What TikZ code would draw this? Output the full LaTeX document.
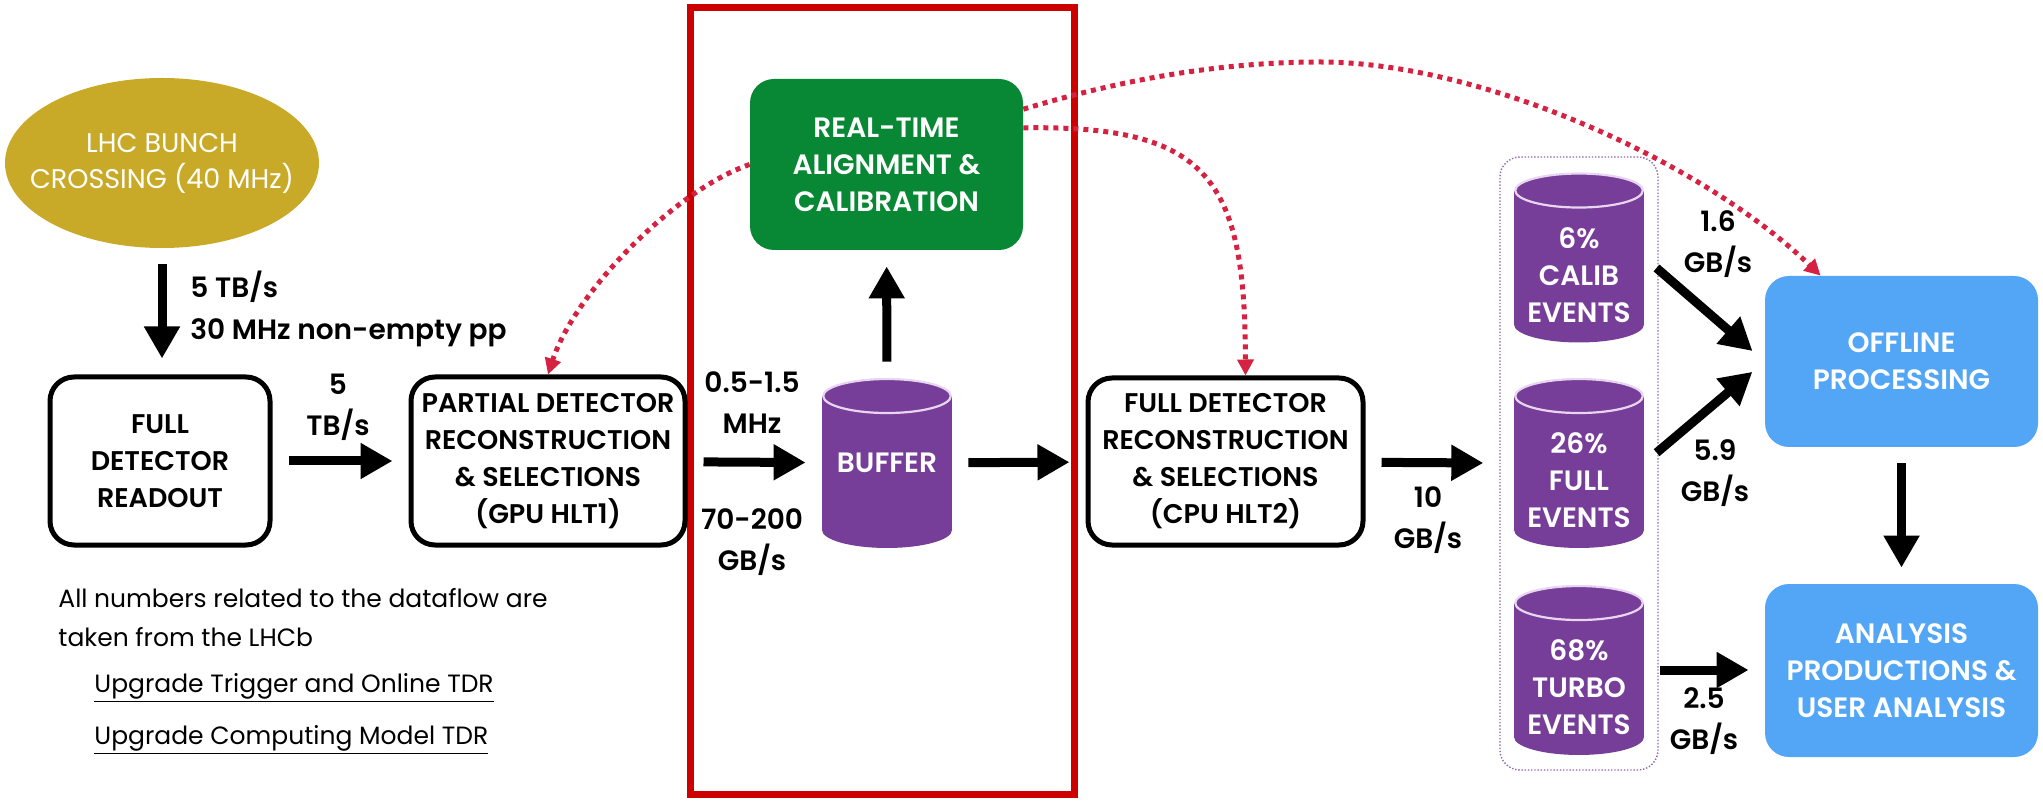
\documentclass[tikz,border=0pt]{standalone}
\usepackage{fontspec}
\setmainfont{Poppins}[BoldFont={Poppins SemiBold}]
\usetikzlibrary{arrows.meta,shapes.geometric,calc}

\definecolor{lhcgold}{RGB}{201,170,40}
\definecolor{rtgreen}{RGB}{8,136,52}
\definecolor{bufpurple}{RGB}{118,61,153}
\definecolor{cyltop}{RGB}{232,214,240}
\definecolor{offblue}{RGB}{82,166,245}
\definecolor{frred}{RGB}{204,0,0}
\definecolor{dotred}{RGB}{214,34,66}

\tikzset{
  boxfont/.style={font=\bfseries\fontsize{13.5}{18.5}\selectfont},
  bigfont/.style={font=\bfseries\fontsize{14}{18.5}\selectfont},
  procbox/.style={boxfont, draw=black, line width=2.5pt, rounded corners=12pt, align=center, inner sep=0pt},
  greenbox/.style={bigfont, fill=rtgreen, text=white, rounded corners=12pt, align=center, inner sep=0pt},
  bluebox/.style={bigfont, fill=offblue, text=white, rounded corners=12pt, align=center, inner sep=0pt},
  store/.style={bigfont, text=white, align=center, inner sep=0pt, minimum width=65pt, minimum height=85pt,
    path picture={
      \fill [bufpurple] ($(path picture bounding box.north west)!0.106!(path picture bounding box.south west)$) rectangle ($(path picture bounding box.south east)!0.106!(path picture bounding box.north east)$);
      \fill [bufpurple] ($(path picture bounding box.south)!0.106!(path picture bounding box.north)$) ellipse [x radius=32.5pt, y radius=9pt];
      \filldraw [fill=bufpurple, draw=cyltop, line width=1.1pt] ($(path picture bounding box.north)!0.106!(path picture bounding box.south)$) ellipse [x radius=31.9pt, y radius=8.5pt];
    }},
  rate/.style={font=\bfseries\fontsize{14}{20.5}\selectfont, align=center, inner sep=0pt},
  note/.style={font=\fontsize{12.5}{19.5}\selectfont, inner sep=0pt},
  flow/.style={-{Triangle[width=17pt,length=16pt]}, line width=4.5pt, shorten >=8pt, shorten <=8pt},
  feedback/.style={-{Triangle[width=8pt,length=8pt]}, dotred, line width=2.5pt, dash pattern=on 2.5pt off 2.5pt}
}
\newcommand{\cyldrop}{\rule{0pt}{28pt}}

\begin{document}
\begin{tikzpicture}[x=0.5pt,y=0.5pt,yscale=-1,xscale=1]
\useasboundingbox (0,0) rectangle (2043,806);

%Shape: Rectangle (real-time frame)
\draw [frred, line width=3.5pt] (690,8) rectangle (1074,794);

%Shape: Ellipse
\node [ellipse, fill=lhcgold, text=white, align=center, inner ysep=0pt, inner xsep=-15pt, minimum width=157pt, minimum height=85pt, font=\fontsize{13.5}{18}\selectfont] (lhc) at (162,163) {LHC BUNCH\\CROSSING (40 MHz)};

%Shape: Boxes
\node [procbox, minimum width=110pt, minimum height=84pt] (readout) at (160,461) {FULL\\DETECTOR\\READOUT};
\node [procbox, minimum width=137pt, minimum height=84pt] (partial) at (548,461) {PARTIAL DETECTOR\\RECONSTRUCTION\\\& SELECTIONS\\(GPU HLT1)};
\node [greenbox, minimum width=136.5pt, minimum height=85.5pt] (align) at (886.5,164.5) {REAL-TIME\\ALIGNMENT \&\\CALIBRATION};
\node [store] (buffer) at (887,463) {BUFFER};
\node [procbox, minimum width=137.5pt, minimum height=83.5pt] (fullreco) at (1225.5,461.5) {FULL DETECTOR\\RECONSTRUCTION\\\& SELECTIONS\\(CPU HLT2)};

%Shape: Storage group
\node [draw=bufpurple!80, line width=0.7pt, dash pattern=on 0.7pt off 0.9pt, rounded corners=10pt, minimum width=79pt, minimum height=306.5pt, inner sep=0pt] (storage) at (1579,463.5) {};
\node [store] (calib) at (1579,257.5) {\cyldrop 6\%\\CALIB\\EVENTS};
\node [store] (full) at (1579,463) {\cyldrop 26\%\\FULL\\EVENTS};
\node [store] (turbo) at (1579,670) {\cyldrop 68\%\\TURBO\\EVENTS};

\node [bluebox, minimum width=136.5pt, minimum height=85.5pt] (offline) at (1901.5,361.5) {OFFLINE\\PROCESSING};
\node [bluebox, minimum width=136.5pt, minimum height=86.5pt] (analysis) at (1901.5,670.5) {ANALYSIS\\PRODUCTIONS \&\\USER ANALYSIS};

%Straight Lines (data flow)
\draw [flow] (lhc.south) -- (lhc.south |- readout.north);
\draw [flow] (readout) -- (partial);
\draw [flow] (partial) -- (buffer);
\draw [flow] (buffer) -- (align);
\draw [flow] (buffer) -- (fullreco);
\draw [flow] (fullreco) -- (storage);
\draw [flow] (calib.east) -- (offline.west);
\draw [flow] (full.east) -- (offline.west);
\draw [flow] (turbo.east) -- (turbo.east -| analysis.west);
\draw [flow] (offline) -- (analysis);

%Curve Lines (feedback)
\coordinate (arcpeak) at (1320,62);
\draw [feedback] (align.west) .. controls (675,190) and (575,292) .. (partial.north);
\draw [feedback] (align.15) .. controls (1210,125) and (1245,180) .. ([xshift=10pt]fullreco.north);
\draw [feedback] (align.22) .. controls (1120,80) and (1220,62) .. (arcpeak) .. controls (1480,62) and (1700,160) .. ([xshift=28pt]offline.north west);

% Text Node
\node [rate, anchor=west, align=left, font=\bfseries\fontsize{14}{21}\selectfont] (ratelhc) at (190,309) {5 TB/s\\30 MHz non-empty pp};
% Text Node
\node [rate] (rateread) at (338,407) {5\\TB/s};
% Text Node
\node [rate] (ratehz) at (752,403) {0.5-1.5\\MHz};
% Text Node
\node [rate] (ratebuf) at (752,542) {70-200\\GB/s};
% Text Node
\node [rate] (ratehlt) at (1428,520) {10\\GB/s};
% Text Node
\node [rate] (ratecal) at (1718,244) {1.6\\GB/s};
% Text Node
\node [rate] (ratefull) at (1715,473) {5.9\\GB/s};
% Text Node
\node [rate] (rateturbo) at (1704,721) {2.5\\GB/s};

% Text Node
\node [note, anchor=west] (note) at (58,598) {All numbers related to the dataflow are};
\node [note, anchor=west] (notecont) at (58,637) {taken from the LHCb};
\node [note, anchor=west] (tdrtrig) at (94,688) {\underline{Upgrade Trigger and Online TDR}};
\node [note, anchor=west] (tdrcomp) at (94,740) {\underline{Upgrade Computing Model TDR}};

\end{tikzpicture}
\end{document}
